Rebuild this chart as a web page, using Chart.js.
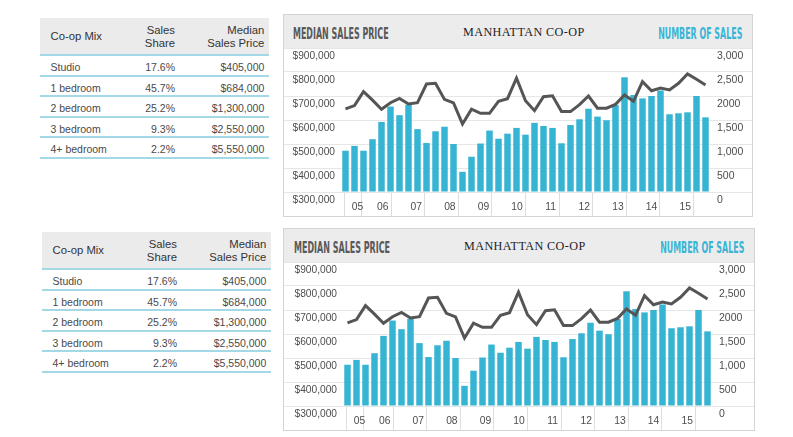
<!DOCTYPE html>
<html>
<head>
<meta charset="utf-8">
<script src="https://cdn.jsdelivr.net/npm/chart.js@4.4.1/dist/chart.umd.min.js"></script>
<style>
  html, body { margin: 0; padding: 0; background: #ffffff; }
  body { width: 793px; height: 437px; position: relative; overflow: hidden;
         font-family: "Liberation Sans", Arial, Helvetica, sans-serif; }
  .tbl { position: absolute; width: 229px; }
  .tbl .hd { position: relative; height: 36px; background: #ebebec; border-bottom: 2px solid #a3d8e7; color: #333; font-size: 11.3px; }
  .tbl .row { position: relative; height: 18.5px; border-bottom: 2px solid #a3d8e7; color: #4a4a4a; font-size: 10.5px; }
  .tbl .c1 { position: absolute; left: 10.5px; }
  .tbl .c2 { position: absolute; right: 94px; text-align: right; }
  .tbl .c3 { position: absolute; right: 4.7px; text-align: right; }
  .tbl .hd .c1 { top: 12px; line-height: 13px; }
  .tbl .hd .c2, .tbl .hd .c3 { top: 6px; line-height: 12.6px; }
  .tbl .row span { top: 3px; line-height: 16px; }
  .panel { position: absolute; border: 1px solid #d4d4d4; background: #fff; }
  .phd { position: relative; height: 33px; background: #ececed; }
  .phd span { position: absolute; white-space: nowrap; line-height: 1; }
  .t-left { font: bold 15px "Liberation Sans Narrow", "DejaVu Sans Condensed", "Liberation Sans", sans-serif; color: #595959; transform-origin: left center; }
  .t-right { font: bold 15px "Liberation Sans Narrow", "DejaVu Sans Condensed", "Liberation Sans", sans-serif; color: #3ab5d5; transform-origin: right center; }
  .t-mid { font: 12px "Liberation Serif", "Times New Roman", serif; color: #222; letter-spacing: 0.4px; transform-origin: left center; }
  canvas { display: block; }
</style>
</head>
<body>

<div class="tbl" id="tbl1" style="left:40px; top:18px;"></div>
<div class="tbl" id="tbl2" style="left:42px; top:232px;"></div>

<div class="panel" style="left:283px; top:14px; width:468px;">
  <div class="phd">
    <span class="t-left" data-w="95.5" style="left:8.7px; top:11.6px;">MEDIAN SALES PRICE</span>
    <span class="t-mid" data-w="121.5" style="left:178.7px; top:11px;">MANHATTAN CO-OP</span>
    <span class="t-right" data-w="84" style="right:9.7px; top:11.6px;">NUMBER OF SALES</span>
  </div>
  <canvas id="c1" width="468" height="168" style="width:468px;height:168px;"></canvas>
</div>

<div class="panel" style="left:283px; top:228px; width:470px;">
  <div class="phd">
    <span class="t-left" data-w="96" style="left:10px; top:11.6px;">MEDIAN SALES PRICE</span>
    <span class="t-mid" data-w="121.5" style="left:180.3px; top:11px;">MANHATTAN CO-OP</span>
    <span class="t-right" data-w="84" style="right:10px; top:11.6px;">NUMBER OF SALES</span>
  </div>
  <canvas id="c2" width="470" height="168" style="width:470px;height:168px;"></canvas>
</div>

<script>
// ---------- DATA ----------
const quarters = [
  "Q3 05","Q4 05",
  "Q1 06","Q2 06","Q3 06","Q4 06",
  "Q1 07","Q2 07","Q3 07","Q4 07",
  "Q1 08","Q2 08","Q3 08","Q4 08",
  "Q1 09","Q2 09","Q3 09","Q4 09",
  "Q1 10","Q2 10","Q3 10","Q4 10",
  "Q1 11","Q2 11","Q3 11","Q4 11",
  "Q1 12","Q2 12","Q3 12","Q4 12",
  "Q1 13","Q2 13","Q3 13","Q4 13",
  "Q1 14","Q2 14","Q3 14","Q4 14",
  "Q1 15","Q2 15","Q3 15"
];
const medianSalesPrice = [
  646000, 660000,
  718000, 683000, 645000, 672000,
  690000, 667000, 672000, 750000,
  753000, 686000, 671000, 583000,
  645000, 628000, 628000, 678000,
  689000, 774000, 680000, 639000,
  697000, 701000, 635000, 635000,
  664000, 700000, 649000, 649000,
  665000, 704000, 678000, 760000,
  722000, 733000, 725000, 753000,
  792000, 770000, 746000
];
const numberOfSales = [
  860, 960,
  860, 1100, 1460, 1780,
  1600, 1820, 1310, 1020,
  1265, 1360, 1000, 420,
  735, 1010, 1280, 1110,
  1215, 1335, 1195, 1440,
  1375, 1335, 1015, 1395,
  1515, 1735, 1570, 1495,
  1810, 2390, 2020, 1950,
  2000, 2115, 1620, 1640,
  1660, 2000, 1555
];
const priceTickLabels = ["$300,000","$400,000","$500,000","$600,000","$700,000","$800,000","$900,000"];
const salesTickLabels = ["0","500","1,000","1,500","2000","2,500","3,000"];
const yearTickLabels = ["05","06","07","08","09","10","11","12","13","14","15"];

const mixTypes = ["Studio","1 bedroom","2 bedroom","3 bedroom","4+ bedroom"];
const mixShare = ["17.6%","45.7%","25.2%","9.3%","2.2%"];
const mixMedianPrice = ["$405,000","$684,000","$1,300,000","$2,550,000","$5,550,000"];

// ---------- TABLES ----------
function buildTable(el) {
  let html = '<div class="hd"><span class="c1">Co-op Mix</span>' +
             '<span class="c2">Sales<br>Share</span>' +
             '<span class="c3">Median<br>Sales Price</span></div>';
  for (let i = 0; i < mixTypes.length; i++) {
    html += '<div class="row"><span class="c1">' + mixTypes[i] + '</span>' +
            '<span class="c2">' + mixShare[i] + '</span>' +
            '<span class="c3">' + mixMedianPrice[i] + '</span></div>';
  }
  el.innerHTML = html;
}
buildTable(document.getElementById('tbl1'));
buildTable(document.getElementById('tbl2'));

// fit header titles to their measured widths
document.querySelectorAll('.phd span').forEach(s => {
  const target = parseFloat(s.dataset.w);
  const w = s.offsetWidth;
  if (w > 0) s.style.transform = 'scaleX(' + (target / w) + ')';
});

// ---------- CHARTS ----------
const FONT = '"Liberation Sans", Arial, Helvetica, sans-serif';
// year axis: first shown quarter is Q3 2005 -> 2005.5
const yearStart = 2005.5, yearEnd = 2016;
const separatorVals = [yearStart];
for (let y = 2006; y <= 2016; y++) separatorVals.push(y);
const labelVals = yearTickLabels.map((t, i) => i === 0 ? 2005.75 : 2005 + i + 0.5);
const yearTickVals = separatorVals.concat(labelVals).sort((a, b) => a - b);

function makeChart(id, leftW, rightW) {
  const ctx = document.getElementById(id);
  return new Chart(ctx, {
    type: 'bar',
    data: {
      labels: quarters,
      datasets: [
        {
          type: 'line',
          label: 'Median Sales Price',
          data: medianSalesPrice,
          xAxisID: 'x',
          yAxisID: 'y',
          borderColor: '#555555',
          borderWidth: 3,
          pointRadius: 0,
          tension: 0,
          fill: false,
          order: 0
        },
        {
          type: 'bar',
          label: 'Number of Sales',
          data: numberOfSales,
          xAxisID: 'x',
          yAxisID: 'y1',
          backgroundColor: '#36b4d3',
          borderWidth: 0,
          barPercentage: 0.72,
          categoryPercentage: 1.0,
          order: 1
        }
      ]
    },
    options: {
      responsive: false,
      animation: false,
      devicePixelRatio: 1,
      layout: { padding: 0 },
      plugins: { legend: { display: false }, tooltip: { enabled: false } },
      scales: {
        x: { type: 'category', display: false, offset: true },
        yr: {
          type: 'linear', position: 'bottom', min: yearStart, max: yearEnd, bounds: 'data',
          afterBuildTicks(s) { s.ticks = yearTickVals.map(v => ({ value: v })); },
          afterFit(s) { s.height = 24; s.paddingLeft = 0; s.paddingRight = 0; },
          border: { display: false },
          grid: {
            drawOnChartArea: false, drawTicks: true, tickLength: 24, lineWidth: 1,
            color: c => (c.tick && separatorVals.includes(c.tick.value)) ? '#dedede' : 'rgba(0,0,0,0)'
          },
          ticks: {
            autoSkip: false, maxRotation: 0, minRotation: 0, padding: -15.5,
            color: '#4d4d4d', font: { family: FONT, size: 10.3 },
            callback: (v) => { const k = labelVals.indexOf(v); return k >= 0 ? yearTickLabels[k] : ''; }
          }
        },
        y: {
          type: 'linear', position: 'left', min: 300000, max: 900000,
          afterFit(s) { s.width = leftW; s.paddingTop = 0; s.paddingBottom = 0; },
          border: { display: false },
          grid: { color: '#e6e6e6', lineWidth: 1, drawTicks: true, tickLength: leftW },
          ticks: {
            stepSize: 100000, padding: 6 - leftW, labelOffset: 8.5,
            color: '#4d4d4d', font: { family: FONT, size: 10.2 },
            callback: (v, i) => priceTickLabels[i]
          }
        },
        y1: {
          type: 'linear', position: 'right', min: 0, max: 3000,
          afterFit(s) { s.width = rightW; s.paddingTop = 0; s.paddingBottom = 0; },
          border: { display: false },
          grid: { drawOnChartArea: false, color: '#e6e6e6', lineWidth: 1, drawTicks: true, tickLength: rightW },
          ticks: {
            stepSize: 500, padding: 7 - rightW, labelOffset: 8.5,
            color: '#4d4d4d', font: { family: FONT, size: 10.5 },
            callback: (v, i) => salesTickLabels[i]
          }
        }
      }
    }
  });
}

makeChart('c1', 57, 42);
makeChart('c2', 59, 42);
</script>
</body>
</html>
